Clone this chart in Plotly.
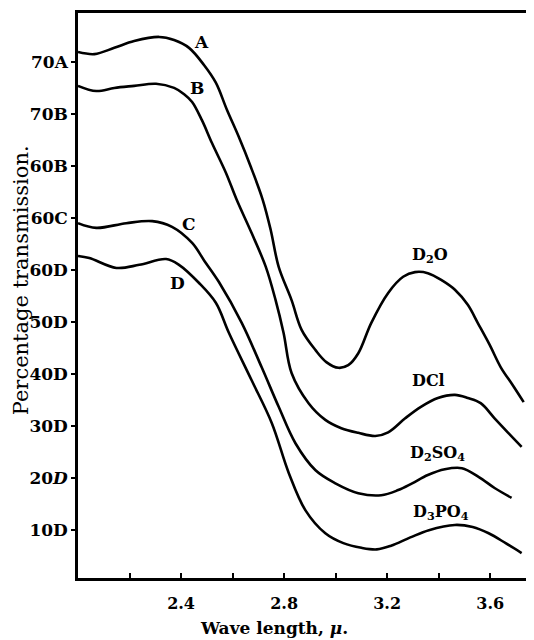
import plotly.graph_objects as go

# Wave length (micron) and plotted transmission (offset scale, 10 units per tick)
wl_A = [2.000, 2.064, 2.141, 2.218, 2.315, 2.373, 2.431, 2.489, 2.535, 2.578, 2.624, 2.671, 2.717, 2.748,
        2.779, 2.829, 2.868, 2.922, 2.964, 3.011, 3.049, 3.088, 3.138, 3.204, 3.262, 3.308, 3.358, 3.416,
        3.463, 3.513, 3.552, 3.598, 3.641, 3.687, 3.730]
tr_A = [101.9, 101.5, 102.7, 104.0, 104.8, 104.2, 102.7, 99.4, 96.0, 90.8, 85.6, 79.8, 73.5, 67.7,
        60.6, 54.2, 48.5, 44.6, 42.3, 41.2, 41.7, 44.0, 49.8, 55.6, 58.7, 59.6, 59.4, 57.9,
        56.2, 53.3, 49.8, 45.6, 41.3, 37.9, 34.6]

wl_B = [2.000, 2.071, 2.141, 2.218, 2.303, 2.373, 2.412, 2.443, 2.481, 2.520, 2.574, 2.616, 2.674, 2.729,
        2.767, 2.798, 2.829, 2.895, 2.960, 3.022, 3.088, 3.154, 3.204, 3.270, 3.331, 3.397, 3.463, 3.513,
        3.563, 3.617, 3.668, 3.722]
tr_B = [95.4, 94.4, 95.0, 95.4, 95.8, 95.0, 93.8, 92.3, 88.8, 84.4, 78.7, 73.5, 67.1, 60.6,
        54.2, 47.9, 40.2, 34.4, 31.2, 29.6, 28.7, 28.1, 28.8, 31.5, 33.7, 35.4, 36.0, 35.4,
        34.4, 31.5, 28.8, 26.0]

wl_C = [2.000, 2.071, 2.187, 2.288, 2.365, 2.443, 2.490, 2.547, 2.636, 2.713, 2.779, 2.844, 2.922, 2.999,
        3.088, 3.177, 3.243, 3.297, 3.358, 3.424, 3.490, 3.556, 3.617, 3.683]
tr_C = [69.0, 68.1, 69.0, 69.4, 68.3, 65.2, 61.8, 57.7, 49.8, 41.3, 33.7, 26.7, 21.5, 19.0,
        17.1, 16.7, 17.7, 19.0, 20.6, 21.7, 21.9, 20.2, 18.1, 16.2]

wl_D = [2.000, 2.044, 2.149, 2.238, 2.342, 2.392, 2.470, 2.535, 2.586, 2.674, 2.752, 2.818, 2.883, 2.960,
        3.030, 3.100, 3.160, 3.215, 3.290, 3.362, 3.463, 3.532, 3.594, 3.660, 3.722]
tr_D = [62.7, 62.3, 60.4, 61.0, 62.1, 61.0, 57.5, 53.7, 47.9, 38.8, 30.6, 21.0, 13.8, 9.4,
        7.5, 6.6, 6.3, 7.0, 8.6, 10.0, 11.0, 10.6, 9.4, 7.5, 5.6]

y_tickvals = [10, 20, 30, 40, 50, 60, 70, 80, 90, 100]
y_ticktext = ["10D", "20<i>D</i>", "30D", "40D", "50D", "60D", "60C", "60B", "70B", "70A"]
x_tickvals = [2.4, 2.8, 3.2, 3.6]
x_ticktext = ["2.4", "2.8", "3.2", "3.6"]
x_minor_ticks = [2.2, 2.6, 3.0, 3.4]

curve_letters = ["A", "B", "C", "D"]
letter_pos_x = [2.481, 2.462, 2.431, 2.388]
letter_pos_y = [103.8, 95.0, 68.8, 57.5]
solvent_names = ["D<sub>2</sub>O", "DCl", "D<sub>2</sub>SO<sub>4</sub>", "D<sub>3</sub>PO<sub>4</sub>"]
solvent_pos_x = [3.366, 3.359, 3.397, 3.409]
solvent_pos_y = [62.7, 38.8, 24.8, 13.3]

FONT = "DejaVu Serif"

fig = go.Figure()
for wl, tr in [(wl_A, tr_A), (wl_B, tr_B), (wl_C, tr_C), (wl_D, tr_D)]:
    fig.add_trace(go.Scatter(x=wl, y=tr, mode="lines",
                             line=dict(color="black", width=2.6, shape="spline", smoothing=1.0),
                             showlegend=False, hoverinfo="skip"))

for t, x, y in zip(curve_letters, letter_pos_x, letter_pos_y):
    fig.add_annotation(x=x, y=y, text="<b>%s</b>" % t, showarrow=False,
                       font=dict(family=FONT, size=17, color="black"))
for t, x, y in zip(solvent_names, solvent_pos_x, solvent_pos_y):
    fig.add_annotation(x=x, y=y, text="<b>%s</b>" % t, showarrow=False,
                       font=dict(family=FONT, size=16, color="black"))

fig.add_annotation(xref="paper", yref="paper", x=0.43, y=-0.089, yanchor="middle",
                   text="<b>Wave length, <i>μ</i>.</b>", showarrow=False,
                   font=dict(family=FONT, size=17, color="black"))
fig.add_annotation(xref="paper", yref="paper", x=-0.125, y=0.527, xanchor="center", yanchor="middle",
                   text="Percentage transmission.", textangle=-90, showarrow=False,
                   font=dict(family=FONT, size=21, color="black"))

# the page body has a small margin, so the figure is sized to end at the window edge
fig.update_layout(
    template="none",
    width=526, height=632,
    margin=dict(l=70, r=0, t=5, b=62, autoexpand=False),
    paper_bgcolor="white", plot_bgcolor="white",
    font=dict(family=FONT, color="black"),
)
fig.update_xaxes(range=[2.0, 3.77], tickvals=x_tickvals, ticktext=x_ticktext, automargin=False,
                 ticks="inside", ticklen=5, tickwidth=1.5, tickcolor="black",
                 minor=dict(tickvals=x_minor_ticks, ticks="inside", ticklen=5, tickwidth=1.5, tickcolor="black"),
                 showline=True, linecolor="black", linewidth=2.5, mirror=True,
                 showgrid=False, zeroline=False, ticklabelstandoff=9,
                 tickfont=dict(family=FONT, size=16, color="black", weight="bold"))
fig.update_yaxes(range=[0.8, 109.4], tickvals=y_tickvals, ticktext=y_ticktext, automargin=False,
                 ticks="outside", ticklen=4, tickwidth=2, tickcolor="black",
                 showline=True, linecolor="black", linewidth=2.5, mirror=False,
                 showgrid=False, zeroline=False,
                 tickfont=dict(family=FONT, size=17, color="black", weight="bold"))

fig.write_html("out.html")
